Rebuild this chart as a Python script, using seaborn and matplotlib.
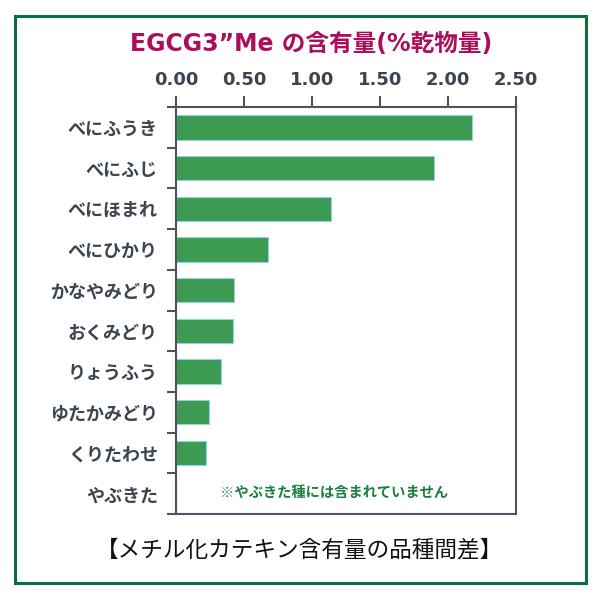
import matplotlib
matplotlib.use("Agg")
import matplotlib.pyplot as plt
import seaborn as sns
import pandas as pd
from matplotlib.patches import Rectangle

varieties = ["べにふうき", "べにふじ", "べにほまれ", "べにひかり", "かなやみどり",
             "おくみどり", "りょうふう", "ゆたかみどり", "くりたわせ", "やぶきた"]
values = [2.18, 1.90, 1.14, 0.68, 0.43, 0.42, 0.33, 0.24, 0.22, 0.0]
x_ticks = [0.0, 0.5, 1.0, 1.5, 2.0, 2.5]
x_tick_labels = ["0.00", "0.50", "1.00", "1.50", "2.00", "2.50"]
title = "EGCG3”Me の含有量(%乾物量)"
note = "※やぶきた種には含まれていません"
caption = "【メチル化カテキン含有量の品種間差】"

sns.set_theme(style="white")
plt.rcParams['font.family'] = ['Noto Sans CJK JP', 'DejaVu Sans']

df = pd.DataFrame({"variety": varieties, "value": values})

fig = plt.figure(figsize=(6, 6), dpi=100)
ax = fig.add_axes([176/600, 1 - 514/600, 340/600, 407/600])

sns.barplot(data=df, x="value", y="variety", orient="h", ax=ax,
            color="#3c9a52", saturation=1, width=0.6,
            edgecolor="#8fd6e0", linewidth=0.8)

spine_col = "#4a5560"
ax.set_xlim(0, 2.5)
ax.set_ylim(9.5, -0.5)
ax.xaxis.tick_top()
ax.set_xticks(x_ticks)
ax.set_xticklabels(x_tick_labels, fontfamily="DejaVu Sans", fontweight="bold",
                   fontsize=13, color="#3a4550")
ax.tick_params(axis="x", which="major", direction="out", length=8, width=1.5,
               color=spine_col, pad=5, top=True, bottom=False)

ax.set_yticks(range(len(varieties)))
ax.set_yticklabels(varieties, fontweight="bold", fontsize=13, color="#3a4550")
ax.set_yticks([i - 0.5 for i in range(len(varieties) + 1)], minor=True)
ax.tick_params(axis="y", which="major", length=0, pad=13)
ax.tick_params(axis="y", which="minor", direction="out", length=6.5, width=1.5,
               color=spine_col, left=True)
ax.set_xlabel("")
ax.set_ylabel("")
for s in ax.spines.values():
    s.set_visible(True)
    s.set_color(spine_col)
    s.set_linewidth(1.5)
    s.set_zorder(5)

fig.text(0.519, 1 - 44/600, title, ha="center", va="center", fontsize=17,
         fontweight="bold", color="#ab0f5c",
         family=['DejaVu Sans', 'Noto Sans CJK JP'])
fig.text(334/600, 1 - 493/600, note, ha="center", va="center", fontsize=10.3,
         fontweight="bold", color="#1a8040")
fig.text(0.5, 1 - 550/600, caption, ha="center", va="center", fontsize=16.3,
         color="#111111")

fig.patches.append(Rectangle((15/600, 1 - 583/600), 571/600, 567/600,
                             transform=fig.transFigure, fill=False,
                             edgecolor="#0b6e3f", linewidth=2.2))

fig.savefig("out.png", dpi=100, facecolor="white")
